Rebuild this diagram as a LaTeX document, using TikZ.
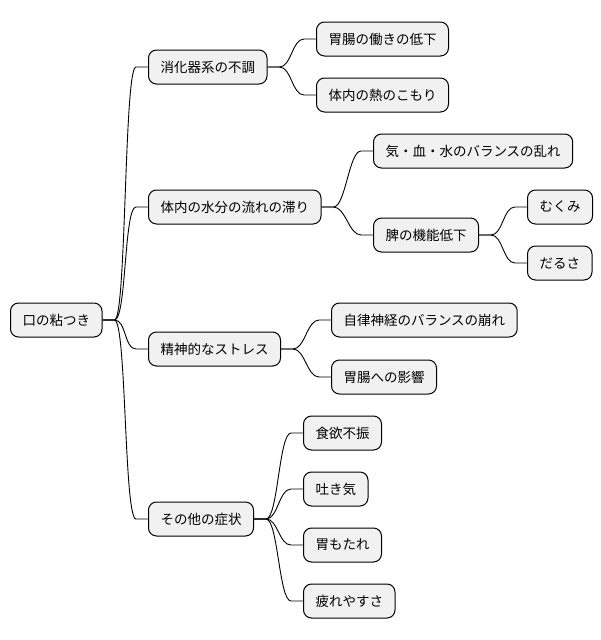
\documentclass[tikz,border=0pt]{standalone}
\usepackage{fontspec}
\setmainfont{Noto Sans CJK JP}
\usetikzlibrary{calc}
\definecolor{boxgray}{HTML}{F1F1F1}
\tikzset{
    mnode/.style={draw=black, fill=boxgray, rounded corners=8pt, line width=1pt,
        minimum height=34pt, inner xsep=12pt, inner ysep=0pt, anchor=west,
        font=\fontsize{13.5}{16}\selectfont},
    link/.style={draw=black, line width=0.9pt}
}
\newcommand{\drawN}[4]{
    \node[mnode] (#1) at (#2,#3) {#4};
}
\newcommand{\drawC}[2]{
    \draw[link] (#1.east) -- ++(12,0) .. controls +(12,0) and +(-12,0) .. ($(#2.west)+(-12,0)$) -- (#2.west);
}

\begin{document}
\begin{tikzpicture}[x=1pt, y=-1pt]
        \useasboundingbox (0,0) rectangle (600,640);
        % Root
        \drawN{root}{10}{320}{口の粘つき}
        % Main branches
        \drawN{digest}{148}{67}{消化器系の不調}
        \drawN{water}{148}{207}{体内の水分の流れの滞り}
        \drawN{stress}{148}{349}{精神的なストレス}
        \drawN{other}{148}{519}{その他の症状}
        % Leaves
        \drawN{gut}{316}{39}{胃腸の働きの低下}
        \drawN{heat}{316}{95}{体内の熱のこもり}
        \drawN{balance}{373}{151}{気・血・水のバランスの乱れ}
        \drawN{spleen}{373}{235}{脾の機能低下}
        \drawN{swell}{527}{207}{むくみ}
        \drawN{tired}{527}{263}{だるさ}
        \drawN{nerve}{331}{320}{自律神経のバランスの崩れ}
        \drawN{effect}{331}{377}{胃腸への影響}
        \drawN{appetite}{303}{433}{食欲不振}
        \drawN{nausea}{303}{489}{吐き気}
        \drawN{heavy}{303}{545}{胃もたれ}
        \drawN{fatigue}{303}{601}{疲れやすさ}
        % Connectors
        \drawC{root}{digest}
        \drawC{root}{water}
        \drawC{root}{stress}
        \drawC{root}{other}
        \drawC{digest}{gut}
        \drawC{digest}{heat}
        \drawC{water}{balance}
        \drawC{water}{spleen}
        \drawC{spleen}{swell}
        \drawC{spleen}{tired}
        \drawC{stress}{nerve}
        \drawC{stress}{effect}
        \drawC{other}{appetite}
        \drawC{other}{nausea}
        \drawC{other}{heavy}
        \drawC{other}{fatigue}
\end{tikzpicture}
\end{document}
